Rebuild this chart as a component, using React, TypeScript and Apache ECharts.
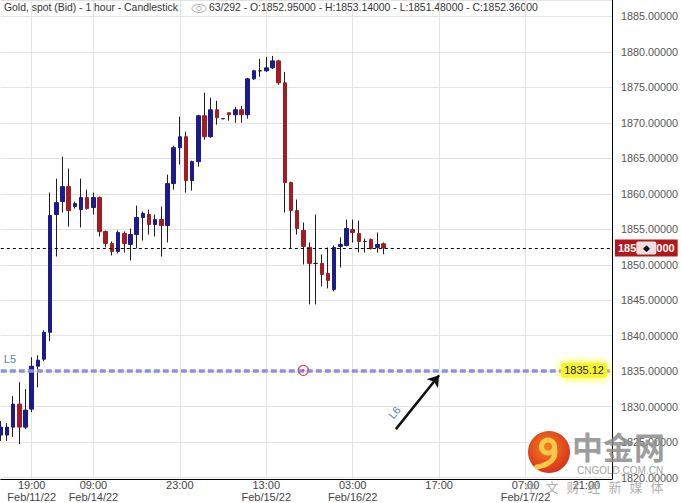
import React, { useEffect, useRef } from 'react';
import * as echarts from 'echarts';

// ---- categories (hourly bars) ----
const sessions = [
  { date: 'Feb/11/22', firstHour: 14, hours: 10 },
  { date: 'Feb/14/22', firstHour: 4, hours: 20 },
  { date: 'Feb/15/22', firstHour: 0, hours: 24 },
  { date: 'Feb/16/22', firstHour: 0, hours: 24 },
  { date: 'Feb/17/22', firstHour: 0, hours: 22 },
];
const categories: string[] = [];
sessions.forEach((s) => {
  for (let h = 0; h < s.hours; h++) {
    categories.push(`${s.date} ${String(s.firstHour + h).padStart(2, '0')}:00`);
  }
});

// ---- x tick labels ----
const xTicks = [
  'Feb/11/22 19:00',
  'Feb/14/22 09:00',
  'Feb/14/22 23:00',
  'Feb/15/22 13:00',
  'Feb/16/22 03:00',
  'Feb/16/22 17:00',
  'Feb/17/22 07:00',
  'Feb/17/22 21:00',
];
const xTickShowsDate = [true, true, false, true, true, false, true, false];

// ---- OHLC series ----
const opens = [
  1826.0, 1826.0, 1827.12, 1830.36, 1827.12, 1829.66, 1835.7, 1836.69, 1840.48, 1857.08,
  1858.9, 1861.01, 1858.2, 1857.78, 1859.47, 1858.06, 1859.47, 1854.69, 1853.0, 1851.87,
  1854.41, 1852.86, 1854.26, 1856.66, 1857.08, 1855.67, 1856.37, 1855.53, 1861.44, 1866.5,
  1868.04, 1861.86, 1864.53, 1871.0, 1868.04, 1871.84, 1870.58, 1871.42, 1871.14, 1871.84,
  1871.14, 1876.2, 1877.33, 1877.33, 1877.75, 1878.73, 1875.64, 1861.58, 1857.64, 1854.83,
  1852.44, 1850.19, 1850.19, 1848.78, 1846.53, 1852.58, 1852.72, 1854.97, 1854.41, 1853.28,
  1853.56, 1852.44, 1852.95,
];
const highs = [
  1827.97, 1827.69, 1831.48, 1833.45, 1832.47, 1836.97, 1837.25, 1840.76, 1860.17, 1862.14,
  1865.23, 1863.55, 1858.9, 1862.14, 1860.59, 1860.17, 1859.61, 1854.83, 1853.28, 1854.83,
  1854.69, 1855.11, 1858.34, 1857.5, 1857.78, 1857.08, 1858.2, 1862.7, 1866.78, 1870.86,
  1868.75, 1864.67, 1871.14, 1874.23, 1873.53, 1873.11, 1870.62, 1871.42, 1872.26, 1872.4,
  1876.34, 1877.47, 1879.01, 1879.29, 1879.43, 1878.87, 1877.19, 1861.72, 1859.19, 1855.95,
  1853.14, 1857.08, 1851.45, 1852.44, 1852.72, 1853.84, 1856.37, 1856.37, 1856.23, 1853.7,
  1853.7, 1854.55, 1853.14,
];
const lows = [
  1825.16, 1825.16, 1825.72, 1824.73, 1826.84, 1829.23, 1832.75, 1836.4, 1839.22, 1851.17,
  1857.36, 1855.39, 1857.92, 1855.25, 1857.78, 1857.08, 1853.98, 1852.44, 1851.31, 1851.59,
  1851.73, 1850.61, 1852.29, 1853.42, 1854.26, 1853.98, 1851.17, 1853.14, 1860.59, 1864.11,
  1860.17, 1860.45, 1863.83, 1867.62, 1867.9, 1869.73, 1870.55, 1870.3, 1870.01, 1870.01,
  1870.58, 1876.06, 1876.48, 1877.19, 1877.61, 1875.36, 1857.36, 1852.29, 1854.26, 1850.04,
  1844.42, 1844.42, 1846.95, 1846.67, 1846.25, 1849.62, 1852.58, 1853.14, 1851.73, 1851.73,
  1852.15, 1851.73, 1851.48,
];
const closes = [
  1827.12, 1827.12, 1830.36, 1827.12, 1829.52, 1835.7, 1836.55, 1840.48, 1856.94, 1858.76,
  1861.01, 1857.64, 1858.62, 1859.47, 1857.92, 1859.47, 1854.69, 1853.0, 1851.87, 1854.55,
  1853.0, 1854.26, 1856.66, 1857.22, 1855.67, 1856.37, 1855.53, 1861.44, 1866.5, 1868.04,
  1861.86, 1864.53, 1871.0, 1868.04, 1871.84, 1870.72, 1870.58, 1871.14, 1871.84, 1871.14,
  1876.2, 1877.33, 1877.33, 1877.75, 1878.73, 1875.64, 1861.58, 1857.64, 1855.11, 1852.58,
  1850.19, 1850.19, 1848.64, 1847.8, 1852.44, 1852.86, 1855.11, 1854.55, 1853.28, 1853.28,
  1852.29, 1852.86, 1852.36,
];

// ---- annotations ----
const totalBars = 292;
const levelL5 = 1835.12;
const markerIndex = 49;
const arrowStartIndex = 64;
const arrowStartValue = 1826.84;
const arrowEndIndex = 71;
const arrowEndValue = 1834.44;

const yMin = 1819.81;
const yMax = 1887.31;

const FONT = 'Liberation Sans, Arial, sans-serif';
const UP = '#1b1b8c';
const DOWN = '#a11d22';
const WICK = '#1e1e1e';

export default function App() {
  const ref = useRef<HTMLDivElement>(null);

  useEffect(() => {
    const chart = echarts.init(ref.current!, null, { renderer: 'svg' });

    const last = opens.length - 1;
    const lastClose = closes[last];
    const wickData = opens.map((o, i) => [o, closes[i], lows[i], highs[i]]);
    const bodyData = opens.map((o, i) => [o, closes[i], Math.min(o, closes[i]), Math.max(o, closes[i])]);

    const titleA = 'Gold, spot (Bid) - 1 hour - Candlestick';
    const titleB = `${opens.length}/${totalBars} - O:${opens[last].toFixed(5)} - H:${highs[last].toFixed(5)} - L:${lows[last].toFixed(5)} - C:${closes[last].toFixed(5)}`;
    const lastStr = lastClose.toFixed(5);

    const logoGrad = new echarts.graphic.RadialGradient(0.45, 0.4, 0.65, [
      { offset: 0, color: '#f6801f' },
      { offset: 1, color: '#d52d1b' },
    ]);
    const bottomChars = ['中', '文', '财', '经', '新', '媒', '体'];

    const option: any = {
      animation: false,
      backgroundColor: '#ffffff',
      grid: { left: 0.8, right: 68.4, top: 0, bottom: 23 },
      xAxis: {
        type: 'category',
        data: categories,
        boundaryGap: false,
        axisLine: { show: true, lineStyle: { color: '#000', width: 1 } },
        axisTick: { show: false },
        axisLabel: {
          interval: (_i: number, v: string) => xTicks.includes(v),
          formatter: (v: string) => {
            const k = xTicks.indexOf(v);
            const [d, t] = v.split(' ');
            if (k === xTicks.length - 1) return `{r|${t}}`;
            return xTickShowsDate[k] ? `${t}\n${d}` : t;
          },
          color: '#444',
          fontSize: 11,
          lineHeight: 12,
          margin: 0,
          fontFamily: FONT,
          rich: { r: { padding: [0, 51, 0, 0], fontSize: 11, color: '#444', fontFamily: FONT } },
        },
        splitLine: {
          show: true,
          interval: (_i: number, v: string) => xTicks.includes(v),
          lineStyle: { color: '#e3e3e3', width: 1 },
        },
      },
      yAxis: {
        type: 'value',
        position: 'right',
        min: yMin,
        max: yMax,
        splitNumber: 13,
        axisLine: { show: true, lineStyle: { color: '#000', width: 1 } },
        axisTick: { show: false },
        axisLabel: {
          color: '#555',
          fontSize: 10.8,
          fontFamily: FONT,
          margin: 9,
          formatter: (v: number) => (Math.abs(v / 5 - Math.round(v / 5)) < 1e-6 ? v.toFixed(5) : ''),
        },
        splitLine: { show: true, lineStyle: { color: '#e3e3e3', width: 1 } },
      },
      series: [
        {
          name: 'wicks',
          type: 'candlestick',
          data: wickData,
          barWidth: 1,
          itemStyle: {
            color: WICK,
            color0: WICK,
            borderColor: WICK,
            borderColor0: WICK,
            borderColorDoji: WICK,
            borderWidth: 1,
          },
          silent: true,
        },
        {
          name: 'bodies',
          type: 'candlestick',
          data: bodyData,
          barWidth: 4,
          itemStyle: {
            color: UP,
            color0: DOWN,
            borderColor: UP,
            borderColor0: DOWN,
            borderColorDoji: WICK,
            borderWidth: 1,
          },
          silent: true,
          markLine: {
            silent: true,
            animation: false,
            symbol: ['none', 'none'],
            data: [
              {
                yAxis: lastClose,
                lineStyle: { color: '#000', type: [3, 3], width: 1 },
                label: {
                  show: true,
                  position: 'end',
                  distance: 3,
                  formatter: `{w|${lastStr.slice(0, 3)}}{i|◆}{w|${lastStr.slice(-3)}}`,
                  backgroundColor: '#b4161b',
                  padding: [2, 3, 2, 3],
                  rich: {
                    w: { color: '#fff', fontWeight: 'bold', fontSize: 11, fontFamily: FONT },
                    i: {
                      color: '#111',
                      fontSize: 9,
                      backgroundColor: '#f1dddd',
                      width: 20,
                      height: 13,
                      align: 'center',
                      borderRadius: 2,
                    },
                  },
                },
              },
              {
                yAxis: levelL5,
                lineStyle: { color: '#8c90dd', width: 3.5, type: [6, 3] },
                label: {
                  show: true,
                  position: 'insideEnd',
                  formatter: levelL5.toFixed(2),
                  color: '#222',
                  fontSize: 11,
                  fontFamily: FONT,
                  backgroundColor: '#f5f52a',
                  padding: [2, 3, 2, 3],
                  borderRadius: 3,
                  shadowColor: '#ffff00',
                  shadowBlur: 8,
                },
              },
              {
                yAxis: levelL5,
                lineStyle: { color: 'rgba(0,0,0,0)', width: 1, type: 'solid' },
                label: {
                  show: true,
                  position: 'insideStartTop',
                  formatter: 'L5',
                  color: '#5b86a8',
                  fontSize: 11,
                  fontFamily: FONT,
                  distance: [3, 6],
                },
              },
              [
                {
                  coord: [categories[arrowStartIndex], arrowStartValue],
                  symbol: 'none',
                  lineStyle: { color: '#111', width: 2.5, type: 'solid' },
                  label: {
                    show: true,
                    position: 'insideStartTop',
                    formatter: 'L6',
                    color: '#5b86a8',
                    fontSize: 11,
                    fontFamily: FONT,
                    distance: 6,
                  },
                },
                {
                  coord: [categories[arrowEndIndex], arrowEndValue],
                  symbol: 'arrow',
                  symbolSize: 11,
                  lineStyle: { color: '#111', width: 2.5, type: 'solid' },
                },
              ],
            ],
          },
          markPoint: {
            silent: true,
            animation: false,
            label: { show: false },
            data: [
              {
                coord: [categories[markerIndex], levelL5],
                symbol: 'circle',
                symbolSize: 10,
                itemStyle: { color: 'rgba(255,255,255,0)', borderColor: '#d64a6c', borderWidth: 1.2 },
              },
              {
                coord: [categories[markerIndex], levelL5],
                symbol: 'circle',
                symbolSize: 2.5,
                itemStyle: { color: '#d64a6c' },
              },
            ],
          },
        },
      ],
      graphic: [
        { type: 'text', left: 4, top: 2, style: { text: titleA, fontSize: 10.4, fontFamily: FONT, fill: '#333' } },
        { type: 'ellipse', shape: { cx: 199, cy: 8.5, rx: 7, ry: 4 }, style: { fill: 'none', stroke: '#aaa', lineWidth: 1 } },
        { type: 'circle', shape: { cx: 199, cy: 8.5, r: 2.2 }, style: { fill: 'none', stroke: '#aaa', lineWidth: 1 } },
        { type: 'text', left: 209, top: 2, style: { text: titleB, fontSize: 10.4, fontFamily: FONT, fill: '#333' } },
        // watermark logo
        { type: 'circle', z: 100, shape: { cx: 549, cy: 452, r: 21 }, style: { fill: logoGrad } },
        {
          type: 'arc',
          z: 101,
          shape: { cx: 548, cy: 446.5, r: 6.5, startAngle: 0, endAngle: Math.PI * 2 },
          style: { stroke: '#fbc84a', lineWidth: 5, fill: 'none' },
        },
        {
          type: 'bezierCurve',
          z: 101,
          shape: { x1: 554.5, y1: 448, cpx1: 558, cpy1: 463, x2: 537, y2: 467 },
          style: { stroke: '#fbc84a', lineWidth: 5, fill: 'none', lineCap: 'round' },
        },
        {
          type: 'text',
          z: 100,
          x: 572,
          y: 430,
          style: {
            text: '中金网',
            fontSize: 31,
            fontWeight: 'bold',
            fontFamily: 'Noto Sans CJK SC',
            fill: 'rgba(140,140,140,0.85)',
          },
        },
        {
          type: 'text',
          z: 100,
          x: 577,
          y: 465,
          style: { text: 'CNGOLD.COM.CN', fontSize: 10, fontFamily: FONT, fill: 'rgba(150,150,150,0.9)' },
        },
        ...bottomChars.map((c, k) => ({
          type: 'text',
          z: 100,
          x: 531 + k * 21,
          y: 486,
          style: {
            text: c,
            fontSize: 13,
            fontFamily: 'Noto Sans CJK SC',
            fill: 'rgba(160,160,160,0.85)',
            align: 'center',
            verticalAlign: 'middle',
          },
        })),
      ],
    };

    chart.setOption(option);
    return () => chart.dispose();
  }, []);

  return (
    <div
      ref={ref}
      style={{ position: 'absolute', left: 0, top: 0, width: 681, height: 503 }}
    />
  );
}
